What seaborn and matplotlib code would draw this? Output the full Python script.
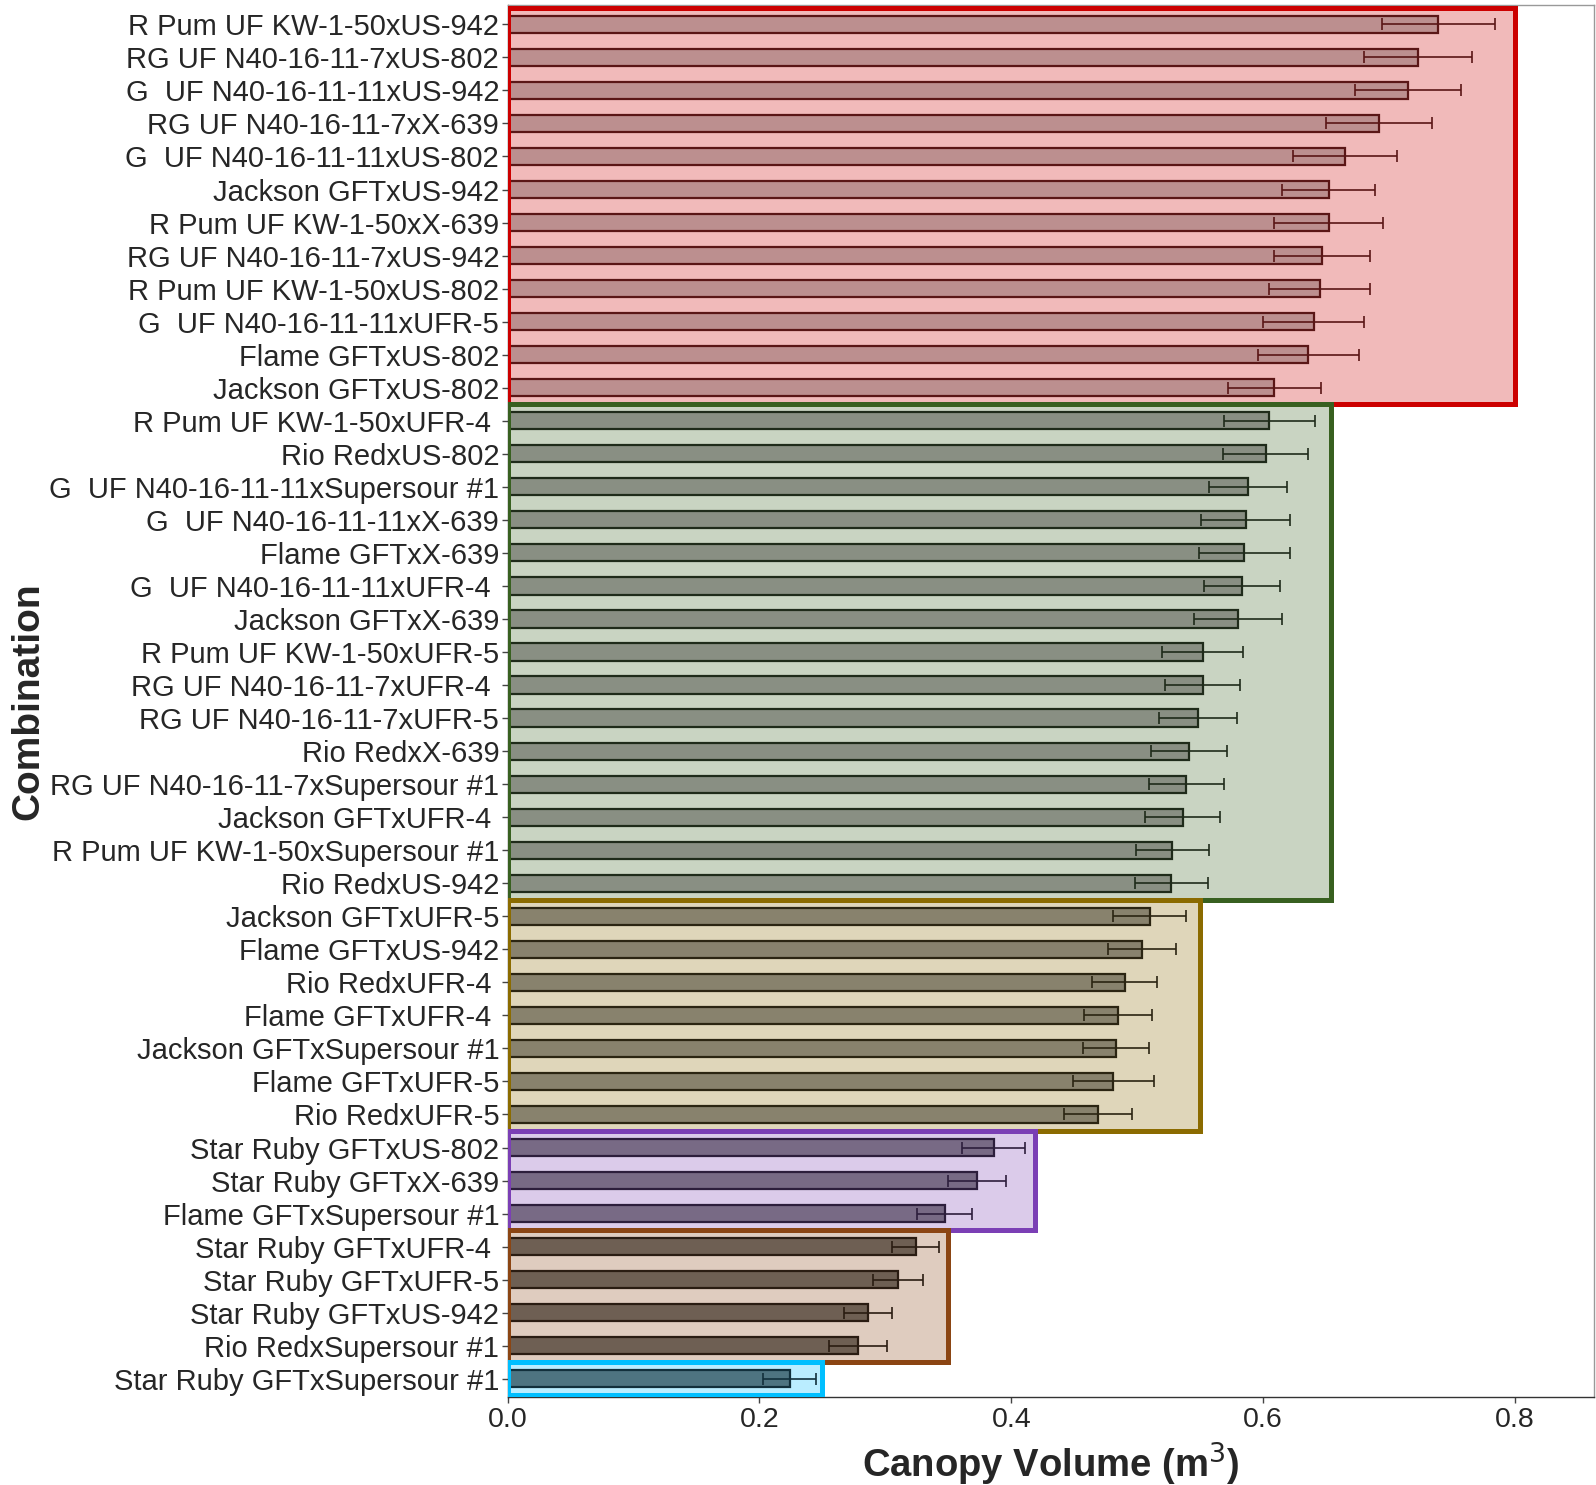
import numpy as np
import pandas as pd
import seaborn as sns
import matplotlib
matplotlib.use("Agg")
import matplotlib.pyplot as plt
from matplotlib.patches import Rectangle
from matplotlib.colors import to_rgba

# Scion x rootstock combinations, ordered by mean canopy volume
combinations = [
    "R Pum UF KW-1-50xUS-942", "RG UF N40-16-11-7xUS-802", "G  UF N40-16-11-11xUS-942",
    "RG UF N40-16-11-7xX-639", "G  UF N40-16-11-11xUS-802", "Jackson GFTxUS-942",
    "R Pum UF KW-1-50xX-639", "RG UF N40-16-11-7xUS-942", "R Pum UF KW-1-50xUS-802",
    "G  UF N40-16-11-11xUFR-5", "Flame GFTxUS-802", "Jackson GFTxUS-802",
    "R Pum UF KW-1-50xUFR-4 ", "Rio RedxUS-802", "G  UF N40-16-11-11xSupersour #1",
    "G  UF N40-16-11-11xX-639", "Flame GFTxX-639", "G  UF N40-16-11-11xUFR-4 ",
    "Jackson GFTxX-639", "R Pum UF KW-1-50xUFR-5", "RG UF N40-16-11-7xUFR-4 ",
    "RG UF N40-16-11-7xUFR-5", "Rio RedxX-639", "RG UF N40-16-11-7xSupersour #1",
    "Jackson GFTxUFR-4 ", "R Pum UF KW-1-50xSupersour #1", "Rio RedxUS-942",
    "Jackson GFTxUFR-5", "Flame GFTxUS-942", "Rio RedxUFR-4 ", "Flame GFTxUFR-4 ",
    "Jackson GFTxSupersour #1", "Flame GFTxUFR-5", "Rio RedxUFR-5",
    "Star Ruby GFTxUS-802", "Star Ruby GFTxX-639", "Flame GFTxSupersour #1",
    "Star Ruby GFTxUFR-4 ", "Star Ruby GFTxUFR-5", "Star Ruby GFTxUS-942",
    "Rio RedxSupersour #1", "Star Ruby GFTxSupersour #1",
]

# Mean canopy volume (m^3)
canopy_mean = [
    0.739, 0.723, 0.715, 0.692, 0.665, 0.652, 0.652, 0.647, 0.645, 0.640, 0.636, 0.609,
    0.605, 0.602, 0.588, 0.586, 0.585, 0.583, 0.580, 0.552, 0.552, 0.548, 0.541, 0.539,
    0.536, 0.528, 0.527,
    0.510, 0.504, 0.490, 0.485, 0.483, 0.481, 0.469,
    0.386, 0.373, 0.347,
    0.324, 0.310, 0.286, 0.278,
    0.224,
]

# Standard error of the mean
canopy_se = [
    0.045, 0.043, 0.042, 0.042, 0.041, 0.037, 0.043, 0.038, 0.040, 0.040, 0.040, 0.037,
    0.036, 0.034, 0.031, 0.035, 0.036, 0.030, 0.035, 0.032, 0.030, 0.031, 0.030, 0.030,
    0.030, 0.029, 0.029,
    0.029, 0.027, 0.026, 0.027, 0.026, 0.032, 0.027,
    0.025, 0.023, 0.022,
    0.019, 0.020, 0.019, 0.023,
    0.021,
]

# Statistical grouping of the combinations
group_names = ["a", "b", "c", "d", "e", "f"]
group_sizes = [12, 15, 7, 3, 4, 1]

group_edge = ["#cc0000", "#386020", "#8b6b00", "#7b3fb5", "#8b4513", "#00bfff"]
bar_face = ["#c48787", "#899181", "#8c8468", "#786689", "#725e4e", "#45788a"]
bar_edge = ["#5a1616", "#1f2b1a", "#2b2512", "#2d1e3c", "#2a1c12", "#12303c"]

group_col = np.repeat(group_names, group_sizes)
df = pd.DataFrame({
    "Combination": combinations,
    "Canopy": canopy_mean,
    "SE": canopy_se,
    "Group": group_col,
})

sns.set_theme(style="white")
plt.rcParams["font.family"] = ["Liberation Sans", "DejaVu Sans"]

fig = plt.figure(figsize=(15.96, 14.85), dpi=100)
ax = fig.add_axes([0.318, 0.0593, 0.6805, 0.9372])

sns.barplot(
    data=df, x="Canopy", y="Combination", hue="Group", orient="h",
    palette=dict(zip(group_names, bar_face)), dodge=False, width=0.52,
    errorbar=None, legend=False, linewidth=1.6, ax=ax, zorder=2,
)

# per-group bar outlines
for cont, ec in zip(ax.containers, bar_edge):
    for p in cont.patches:
        p.set_edgecolor(ec)

pos = np.arange(len(df))
upper = df["Canopy"] + df["SE"]
for g, ec in zip(group_names, bar_edge):
    m = (df["Group"] == g).to_numpy()
    ax.errorbar(df["Canopy"][m], pos[m], xerr=df["SE"][m], fmt="none",
                ecolor=ec, elinewidth=1.2, capsize=4, capthick=1.2, zorder=3)

# shaded boxes around each group
start = 0
for g, n, col in zip(group_names, group_sizes, group_edge):
    right = upper.iloc[start:start + n].max() * 1.02
    ax.add_patch(Rectangle((0, start - 0.5), right, n, facecolor=to_rgba(col, 0.27),
                           edgecolor="none", zorder=1))
    ax.add_patch(Rectangle((0, start - 0.5), right, n, facecolor="none",
                           edgecolor=col, linewidth=3.6, zorder=4))
    start += n

ax.set_xlim(0, upper.max() * 1.1)
ax.set_ylim(len(df) - 0.45, -0.58)
ax.set_xticks([0.0, 0.2, 0.4, 0.6, 0.8])
ax.set_xticklabels(["0.0", "0.2", "0.4", "0.6", "0.8"])

ax.tick_params(axis="y", labelsize=21, length=4, width=1, color="#444444",
               left=True, pad=2)
ax.tick_params(axis="x", labelsize=20.5, length=4, width=1, color="#444444",
               bottom=True, pad=3)
ax.set_xlabel("Canopy Volume (m$^3$)", fontsize=27.5, fontweight="bold", labelpad=6)
ax.set_ylabel("Combination", fontsize=28, fontweight="bold", labelpad=2)

for side in ["bottom", "left"]:
    ax.spines[side].set_color("#333333")
    ax.spines[side].set_linewidth(1.0)
for side in ["top", "right"]:
    ax.spines[side].set_color("#999999")
    ax.spines[side].set_linewidth(1.0)

fig.savefig("out.png", dpi=100)
